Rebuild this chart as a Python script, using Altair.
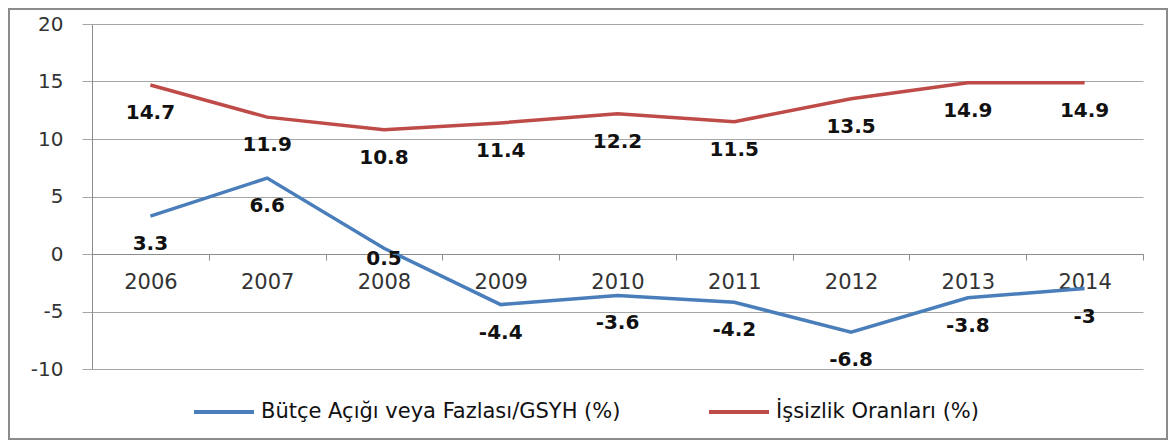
import altair as alt
import pandas as pd

years = ["2006", "2007", "2008", "2009", "2010", "2011", "2012", "2013", "2014"]
butce = [3.3, 6.6, 0.5, -4.4, -3.6, -4.2, -6.8, -3.8, -3]
issizlik = [14.7, 11.9, 10.8, 11.4, 12.2, 11.5, 13.5, 14.9, 14.9]
series_names = ["Bütçe Açığı veya Fazlası/GSYH (%)", "İşsizlik Oranları (%)"]
colors = ["#4a7ebb", "#be4b48"]
y_ticks = [-10, -5, 0, 5, 10, 15, 20]

rows = []
for name, vals in zip(series_names, [butce, issizlik]):
    for yr, v in zip(years, vals):
        rows.append({"Yıl": yr, "Değer": v, "Seri": name, "Etiket": f"{v:g}"})
df = pd.DataFrame(rows)

W, H = 1051, 345
zero_offset = -115  # put the category axis on the y=0 line

xenc = alt.X(
    "Yıl:N", sort=years, bandPosition=0.5,
    scale=alt.Scale(type="band", paddingInner=0, paddingOuter=0),
    axis=alt.Axis(title=None, orient="bottom", offset=zero_offset, tickBand="extent",
                  labelAngle=0, labelFont="DejaVu Sans", labelFontSize=21,
                  labelColor="#333333", labelPadding=11, tickSize=6,
                  tickColor="#8c8c8c", domainColor="#8c8c8c", grid=False),
)
yenc = alt.Y(
    "Değer:Q", scale=alt.Scale(domain=[-10, 20], nice=False),
    axis=alt.Axis(title=None, values=y_ticks, tickSize=10, tickColor="#a6a6a6",
                  gridColor="#a6a6a6", domainColor="#8c8c8c", labelPadding=19,
                  labelExpr="'' + datum.value",
                  labelFont="DejaVu Sans", labelFontSize=20, labelColor="#333333"),
)
color = alt.Color(
    "Seri:N", scale=alt.Scale(domain=series_names, range=colors),
    legend=alt.Legend(title=None, orient="none", legendX=100, legendY=356,
                      direction="horizontal", symbolType="stroke", symbolSize=3600,
                      symbolStrokeWidth=4, labelFont="DejaVu Sans", labelFontSize=21,
                      labelColor="#111111", labelLimit=0, columnPadding=80,
                      labelOffset=5, padding=0),
)

special = (alt.datum["Yıl"] == "2008") & (alt.datum["Seri"] == series_names[0])

base = alt.Chart(df)
lines = base.mark_line(strokeWidth=3.5).encode(x=xenc, y=yenc, color=color)
label_style = dict(fontWeight="bold", fontSize=20, font="DejaVu Sans", color="#111111")
labels = base.transform_filter(~special).mark_text(dy=28, **label_style).encode(
    x=xenc, y=yenc, text="Etiket:N")
labels_2008 = base.transform_filter(special).mark_text(dy=11, **label_style).encode(
    x=xenc, y=yenc, text="Etiket:N")
frame = alt.Chart(alt.Data(values=[{}])).mark_rect(
    fillOpacity=0, stroke="#8c8c8c", strokeWidth=2
).encode(x=alt.value(-83), x2=alt.value(W + 24), y=alt.value(-15), y2=alt.value(H + 70))

chart = alt.layer(lines, labels, labels_2008, frame).properties(
    width=W, height=H,
    padding={"left": 84, "top": 16, "right": 25, "bottom": 71},
    autosize=alt.AutoSizeParams(type="none"),
).configure_view(strokeWidth=0)

chart.save("out.html", embed_options={"renderer": "svg", "actions": False})
